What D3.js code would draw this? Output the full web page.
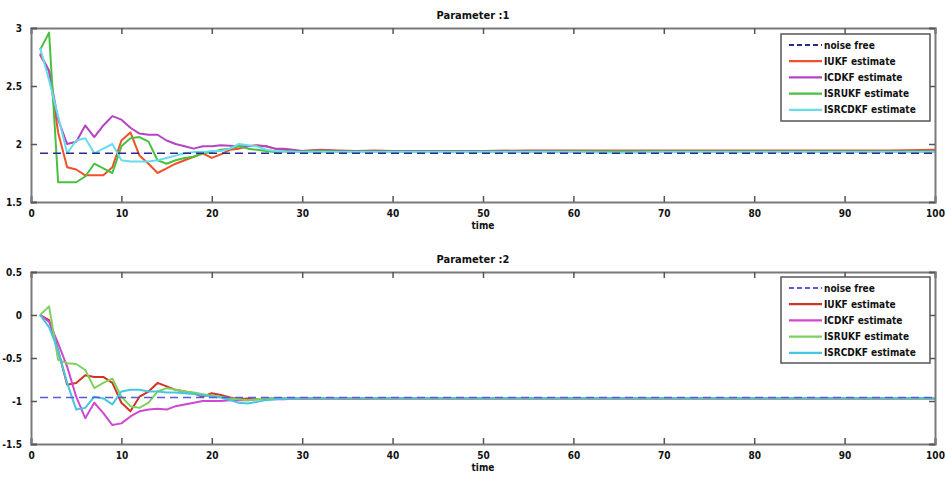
<!DOCTYPE html>
<html><head><meta charset="utf-8">
<script src="https://cdn.jsdelivr.net/npm/d3@7"></script>
<style>
body{margin:0;background:#fff;}
text{font-family:"DejaVu Sans Condensed","Liberation Sans Narrow","Arial Narrow",sans-serif;font-stretch:condensed;font-weight:bold;fill:#111;}
</style></head>
<body>
<svg id="chart" width="946" height="478"></svg>
<script>
// shared time samples
const time = [1,2,3,4,5,6,7,8,9,10,11,12,13,14,15,16,17,18,19,20,21,22,23,24,25,26,27,28,29,30,32,34,36,38,40,45,50,55,60,65,70,75,80,85,90,95,100];

// Parameter 1
const p1NoiseFree = [1.92,1.92,1.92,1.92,1.92,1.92,1.92,1.92,1.92,1.92,1.92,1.92,1.92,1.92,1.92,1.92,1.92,1.92,1.92,1.92,1.92,1.92,1.92,1.92,1.92,1.92,1.92,1.92,1.92,1.92,1.92,1.92,1.92,1.92,1.92,1.92,1.92,1.92,1.92,1.92,1.92,1.92,1.92,1.92,1.92,1.92,1.92];
const p1IUKF    = [2.77,2.63,2.10,1.80,1.78,1.73,1.73,1.73,1.80,2.03,2.10,1.90,1.83,1.75,1.79,1.83,1.86,1.89,1.92,1.88,1.91,1.95,1.96,1.98,1.99,1.98,1.96,1.95,1.93,1.94,1.95,1.945,1.94,1.945,1.94,1.94,1.94,1.945,1.945,1.945,1.945,1.945,1.945,1.945,1.945,1.945,1.95];
const p1ICDKF   = [2.78,2.63,2.21,2.00,2.02,2.16,2.06,2.16,2.24,2.21,2.14,2.09,2.08,2.08,2.03,2.00,1.98,1.96,1.98,1.98,1.99,1.985,1.98,1.98,1.985,1.98,1.96,1.96,1.95,1.94,1.945,1.94,1.94,1.94,1.94,1.94,1.94,1.94,1.935,1.935,1.935,1.935,1.935,1.935,1.935,1.935,1.935];
const p1ISRUKF  = [2.81,2.96,1.67,1.67,1.67,1.72,1.83,1.79,1.75,1.98,2.05,2.06,2.02,1.86,1.83,1.86,1.88,1.89,1.92,1.93,1.95,1.96,1.98,1.96,1.95,1.94,1.93,1.935,1.935,1.935,1.94,1.935,1.935,1.935,1.935,1.935,1.935,1.935,1.935,1.935,1.935,1.935,1.935,1.935,1.935,1.935,1.935];
const p1ISRCDKF = [2.83,2.55,2.24,1.92,2.03,2.05,1.92,1.96,2.00,1.86,1.85,1.85,1.85,1.86,1.88,1.90,1.92,1.93,1.93,1.94,1.94,1.96,2.00,1.99,1.98,1.95,1.94,1.935,1.93,1.93,1.93,1.93,1.93,1.93,1.93,1.93,1.93,1.93,1.93,1.925,1.93,1.93,1.93,1.93,1.93,1.93,1.93];

// Parameter 2
const p2NoiseFree = [-0.96,-0.96,-0.96,-0.96,-0.96,-0.96,-0.96,-0.96,-0.96,-0.96,-0.96,-0.96,-0.96,-0.96,-0.96,-0.96,-0.96,-0.96,-0.96,-0.96,-0.96,-0.96,-0.96,-0.96,-0.96,-0.96,-0.96,-0.96,-0.96,-0.96,-0.96,-0.96,-0.96,-0.96,-0.96,-0.96,-0.96,-0.96,-0.96,-0.96,-0.96,-0.96,-0.96,-0.96,-0.96,-0.96,-0.96];
const p2IUKF    = [0.00,-0.06,-0.41,-0.81,-0.79,-0.70,-0.72,-0.72,-0.79,-1.02,-1.12,-0.95,-0.89,-0.79,-0.83,-0.87,-0.89,-0.91,-0.95,-0.91,-0.93,-0.96,-0.98,-0.97,-0.98,-0.97,-0.97,-0.97,-0.97,-0.97,-0.97,-0.97,-0.975,-0.97,-0.97,-0.97,-0.97,-0.97,-0.97,-0.97,-0.97,-0.97,-0.97,-0.97,-0.97,-0.97,-0.97];
const p2ICDKF   = [0.00,-0.08,-0.33,-0.60,-0.95,-1.20,-1.02,-1.14,-1.28,-1.26,-1.18,-1.12,-1.10,-1.09,-1.10,-1.06,-1.04,-1.02,-1.00,-1.00,-1.00,-0.99,-0.99,-0.99,-0.98,-0.98,-0.98,-0.98,-0.975,-0.975,-0.975,-0.975,-0.97,-0.97,-0.97,-0.97,-0.97,-0.97,-0.97,-0.97,-0.97,-0.97,-0.97,-0.97,-0.97,-0.97,-0.97];
const p2ISRUKF  = [0.00,0.10,-0.52,-0.56,-0.57,-0.64,-0.85,-0.79,-0.74,-0.95,-1.06,-1.08,-1.02,-0.89,-0.85,-0.87,-0.89,-0.90,-0.92,-0.94,-0.95,-0.97,-0.98,-0.99,-0.98,-0.97,-0.97,-0.97,-0.97,-0.97,-0.97,-0.97,-0.97,-0.97,-0.97,-0.97,-0.97,-0.97,-0.97,-0.97,-0.97,-0.97,-0.97,-0.97,-0.97,-0.97,-0.975];
const p2ISRCDKF = [0.00,-0.14,-0.41,-0.79,-1.10,-1.08,-0.95,-0.97,-1.04,-0.89,-0.87,-0.87,-0.89,-0.89,-0.90,-0.90,-0.91,-0.92,-0.93,-0.95,-0.96,-0.99,-1.02,-1.03,-1.01,-0.99,-0.98,-0.97,-0.97,-0.965,-0.965,-0.965,-0.965,-0.965,-0.965,-0.965,-0.965,-0.965,-0.965,-0.965,-0.965,-0.965,-0.965,-0.965,-0.965,-0.965,-0.965];

const seriesNames = ["noise free","IUKF estimate","ICDKF estimate","ISRUKF estimate","ISRCDKF estimate"];
const xTicks = [0,10,20,30,40,50,60,70,80,90,100];
const p1YTicks = [1.5,2,2.5,3];
const p2YTicks = [-1.5,-1,-0.5,0,0.5];
const titles = ["Parameter :1","Parameter :2"];
const xLabel = "time";

const panels = [
  {title:titles[0], domain:[1.5,3], yTicks:p1YTicks, top:28, bottom:202,
   data:[p1NoiseFree,p1IUKF,p1ICDKF,p1ISRUKF,p1ISRCDKF],
   colors:["#2a2a8c","#f0502a","#b444c4","#48c040","#66dcee"],
   legend:{x:781,y:34,w:149,h:87}},
  {title:titles[1], domain:[-1.5,0.5], yTicks:p2YTicks, top:272, bottom:444,
   data:[p2NoiseFree,p2IUKF,p2ICDKF,p2ISRUKF,p2ISRCDKF],
   colors:["#5a5ae0","#d23424","#d048d0","#80d060","#44c8e0"],
   legend:{x:781,y:277,w:149,h:86}}
];

const FONT = "'DejaVu Sans Condensed','Liberation Sans Narrow','Arial Narrow',sans-serif";
const svg = d3.select("#chart");
const left = 31, right = 935;
const x = d3.scaleLinear().domain([0,100]).range([left,right]);
const fmt = d => (d===0?"0":String(d));

panels.forEach(p => {
  const y = d3.scaleLinear().domain(p.domain).range([p.bottom,p.top]);
  const g = svg.append("g");
  const line = d3.line().x((d,i)=>x(time[i])).y(d=>y(d));
  [1,2,3,4].forEach(k => {
    g.append("path").datum(p.data[k])
      .attr("d", line)
      .attr("fill","none")
      .attr("stroke", p.colors[k])
      .attr("stroke-width", 2)
      .attr("stroke-linejoin","round");
  });
  g.append("path").datum(p.data[0]).attr("d",line).attr("fill","none")
    .attr("stroke",p.colors[0]).attr("stroke-width",1.6).attr("stroke-dasharray","8,5");

  const axB = d3.axisBottom(x).tickValues(xTicks).tickSize(-6).tickPadding(8).tickFormat(fmt);
  const axT = d3.axisTop(x).tickValues(xTicks).tickSize(-6).tickFormat("");
  const axL = d3.axisLeft(y).tickValues(p.yTicks).tickSize(-6).tickPadding(9).tickFormat(fmt);
  const axR = d3.axisRight(y).tickValues(p.yTicks).tickSize(-6).tickFormat("");
  const style = sel => {
    sel.selectAll("path.domain").attr("stroke","#7a7a7a").attr("stroke-width",2);
    sel.selectAll(".tick line").attr("stroke","#555").attr("stroke-width",1.5);
    sel.selectAll(".tick text").attr("font-size",10).attr("font-weight","bold").attr("fill","#111")
      .attr("font-family",FONT);
  };
  g.append("g").attr("transform",`translate(0,${p.bottom})`).call(axB).call(style);
  g.append("g").attr("transform",`translate(0,${p.top})`).call(axT).call(style);
  g.append("g").attr("transform",`translate(${left},0)`).call(axL).call(style);
  g.append("g").attr("transform",`translate(${right},0)`).call(axR).call(style);
  g.selectAll(".domain").attr("fill","none");

  g.append("text").attr("x",(left+right)/2 - 10).attr("y",p.top-9).attr("text-anchor","middle")
    .attr("font-size",11).text(p.title);
  g.append("text").attr("x",x(50)).attr("y",p.bottom+27).attr("text-anchor","middle")
    .attr("font-size",10).text(xLabel);

  const L = p.legend;
  const lg = g.append("g");
  lg.append("rect").attr("x",L.x).attr("y",L.y).attr("width",L.w).attr("height",L.h)
    .attr("fill","#fff").attr("stroke","#555").attr("stroke-width",1.5);
  seriesNames.forEach((name,k) => {
    const yy = L.y + 11 + k*16.2;
    lg.append("line").attr("x1",L.x+8).attr("x2",L.x+41).attr("y1",yy).attr("y2",yy)
      .attr("stroke",p.colors[k]).attr("stroke-width",k===0?1.8:2.2)
      .attr("stroke-dasharray",k===0?"5,3":null);
    lg.append("text").attr("x",L.x+43).attr("y",yy+3.5).attr("font-size",10).text(name);
  });
});
</script>
</body></html>
